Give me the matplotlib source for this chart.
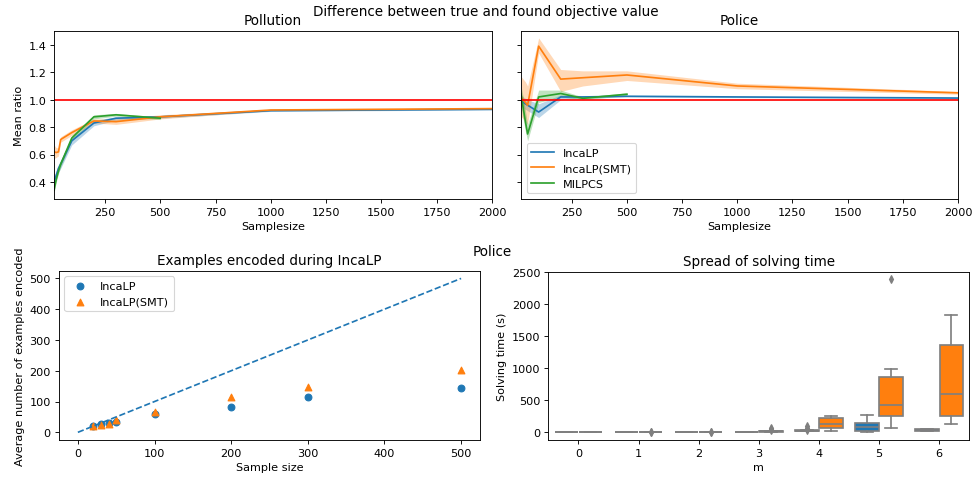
import matplotlib
matplotlib.use('Agg')
import matplotlib.pyplot as plt
import numpy as np

# 上段: 真の目的値との比 (平均と信頼区間)
sample_sizes = [20, 30, 40, 50, 100, 200, 300, 500, 1000, 2000]
milp_sizes = [20, 30, 40, 50, 100, 200, 300, 500]

pollution_incalp = [0.40, 0.45, 0.50, 0.53, 0.70, 0.83, 0.865, 0.875, 0.92, 0.93]
pollution_incalp_lo = [0.36, 0.42, 0.47, 0.50, 0.67, 0.81, 0.85, 0.865, 0.915, 0.925]
pollution_incalp_hi = [0.44, 0.48, 0.53, 0.56, 0.72, 0.85, 0.875, 0.885, 0.925, 0.935]
pollution_smt = [0.62, 0.615, 0.62, 0.71, 0.76, 0.845, 0.84, 0.875, 0.925, 0.935]
pollution_smt_lo = [0.57, 0.58, 0.59, 0.69, 0.74, 0.83, 0.82, 0.86, 0.92, 0.93]
pollution_smt_hi = [0.67, 0.65, 0.65, 0.73, 0.78, 0.86, 0.86, 0.89, 0.93, 0.94]
pollution_milp = [0.34, 0.42, 0.48, 0.53, 0.72, 0.875, 0.89, 0.865]
pollution_milp_lo = [0.32, 0.40, 0.46, 0.51, 0.70, 0.86, 0.88, 0.855]
pollution_milp_hi = [0.37, 0.44, 0.50, 0.55, 0.74, 0.89, 0.90, 0.875]

police_incalp = [1.00, 0.98, 0.97, 0.96, 0.91, 1.02, 1.02, 1.025, 1.02, 1.012]
police_incalp_lo = [0.96, 0.94, 0.93, 0.92, 0.87, 1.00, 1.01, 1.02, 1.015, 1.008]
police_incalp_hi = [1.04, 1.02, 1.01, 1.00, 0.97, 1.035, 1.03, 1.03, 1.025, 1.016]
police_smt = [1.02, 1.00, 0.98, 0.96, 1.39, 1.15, 1.16, 1.18, 1.10, 1.05]
police_smt_lo = [0.88, 0.86, 0.84, 0.82, 1.34, 1.06, 1.10, 1.14, 1.08, 1.04]
police_smt_hi = [1.17, 1.15, 1.13, 1.10, 1.45, 1.22, 1.21, 1.21, 1.12, 1.06]
police_milp = [1.04, 0.94, 0.84, 0.75, 1.02, 1.045, 1.01, 1.04]
police_milp_lo = [0.96, 0.86, 0.77, 0.70, 0.98, 1.02, 1.00, 1.03]
police_milp_hi = [1.10, 1.02, 0.92, 0.82, 1.07, 1.07, 1.02, 1.05]

# 下段左: エンコードされた例の数
encoded_sizes = [20, 30, 40, 50, 100, 200, 300, 500]
encoded_incalp = [22, 26, 29, 33, 59, 81, 116, 144]
encoded_smt = [20, 25, 28, 40, 65, 116, 146, 203]
diag_x = [0, 500]

# 下段右: 解く時間の分布 (箱ひげ図の統計値)
m_values = [0, 1, 2, 3, 4, 5, 6]
box_incalp = {
    'whislo': [0, 0, 0, 1, 15, 5, 20],
    'q1': [1, 1, 1, 2, 20, 25, 28],
    'med': [2, 2, 2, 4, 25, 78, 35],
    'q3': [3, 3, 3, 6, 35, 141, 45],
    'whishi': [4, 5, 5, 8, 40, 266, 50],
    'fliers': [[], [], [], [], [40, 70, 95], [], []],
}
box_smt = {
    'whislo': [0, 0, 0, 8, 16, 63, 125],
    'q1': [1, 1, 1, 12, 63, 261, 261],
    'med': [2, 2, 2, 16, 135, 433, 600],
    'q3': [3, 4, 4, 22, 219, 867, 1358],
    'whishi': [5, 6, 6, 28, 250, 992, 1828],
    'fliers': [[], [8, 12], [8, 12], [30, 50, 72], [], [2387], []],
}

colors = ['#1f77b4', '#ff7f0e', '#2ca02c']
labels = ['IncaLP', 'IncaLP(SMT)', 'MILPCS']

fig = plt.figure(figsize=(12, 5.9), dpi=81)
ax_pol = fig.add_axes([0.0556, 0.5816, 0.4506, 0.3515])
ax_pc = fig.add_axes([0.536, 0.5816, 0.4496, 0.3515], sharey=ax_pol)
ax_enc = fig.add_axes([0.0604, 0.0774, 0.4337, 0.3542])
ax_box = fig.add_axes([0.5641, 0.0774, 0.4331, 0.352])

fig.suptitle("Difference between true and found objective value", y=0.99)
fig.text(0.506, 0.473, "Police", ha='center', va='center', fontsize='large')

pollution = [
    (sample_sizes, pollution_incalp, pollution_incalp_lo, pollution_incalp_hi),
    (sample_sizes, pollution_smt, pollution_smt_lo, pollution_smt_hi),
    (milp_sizes, pollution_milp, pollution_milp_lo, pollution_milp_hi),
]
police = [
    (sample_sizes, police_incalp, police_incalp_lo, police_incalp_hi),
    (sample_sizes, police_smt, police_smt_lo, police_smt_hi),
    (milp_sizes, police_milp, police_milp_lo, police_milp_hi),
]

for ax, series, title in [(ax_pol, pollution, "Pollution"), (ax_pc, police, "Police")]:
    for (xs, mean, lo, hi), c, lab in zip(series, colors, labels):
        ax.fill_between(xs, lo, hi, color=c, alpha=0.3, linewidth=0)
        ax.plot(xs, mean, color=c, label=lab)
    ax.axhline(1.0, color='red')
    ax.set_xlim(20, 2000)
    ax.set_xticks([250, 500, 750, 1000, 1250, 1500, 1750, 2000])
    ax.set_xlabel("Samplesize")
    ax.set_title(title)
ax_pol.set_ylim(0.276, 1.50)
ax_pol.set_yticks([0.4, 0.6, 0.8, 1.0, 1.2, 1.4])
ax_pol.set_ylabel("Mean ratio")
plt.setp(ax_pc.get_yticklabels(), visible=False)
ax_pc.legend(loc='lower left')

# 例の数の散布図
ax_enc.scatter(encoded_sizes, encoded_incalp, color=colors[0], marker='o', label='IncaLP')
ax_enc.scatter(encoded_sizes, encoded_smt, color=colors[1], marker='^', label='IncaLP(SMT)')
ax_enc.plot(diag_x, diag_x, '--', color=colors[0])
ax_enc.set_xlabel("Sample size")
ax_enc.set_ylabel("Average number of examples encoded")
ax_enc.set_title("Examples encoded during IncaLP")
ax_enc.legend(loc='upper left')

# 箱ひげ図
gray = '#7f7f7f'
for stats, c, offset in [(box_incalp, colors[0], -0.2), (box_smt, colors[1], 0.2)]:
    bx = []
    for i in range(len(m_values)):
        bx.append({k: stats[k][i] for k in ['whislo', 'q1', 'med', 'q3', 'whishi', 'fliers']})
    ax_box.bxp(bx, positions=[m + offset for m in m_values], widths=0.39,
               patch_artist=True, manage_ticks=False,
               boxprops=dict(facecolor=c, edgecolor=gray, linewidth=1.5),
               medianprops=dict(color=gray, linewidth=1.5),
               whiskerprops=dict(color=gray, linewidth=1.5),
               capprops=dict(color=gray, linewidth=1.5),
               flierprops=dict(marker='d', markerfacecolor=gray, markeredgecolor=gray, markersize=5))
ax_box.set_xlim(-0.5, 6.5)
ax_box.set_xticks(m_values)
ax_box.set_yticks([0, 500, 1000, 1500, 2000, 2500])
ax_box.set_xlabel("m")
ax_box.set_ylabel("Solving time (s)")
ax_box.set_title("Spread of solving time")

plt.savefig("out.png", dpi=81)
plt.close(fig)
